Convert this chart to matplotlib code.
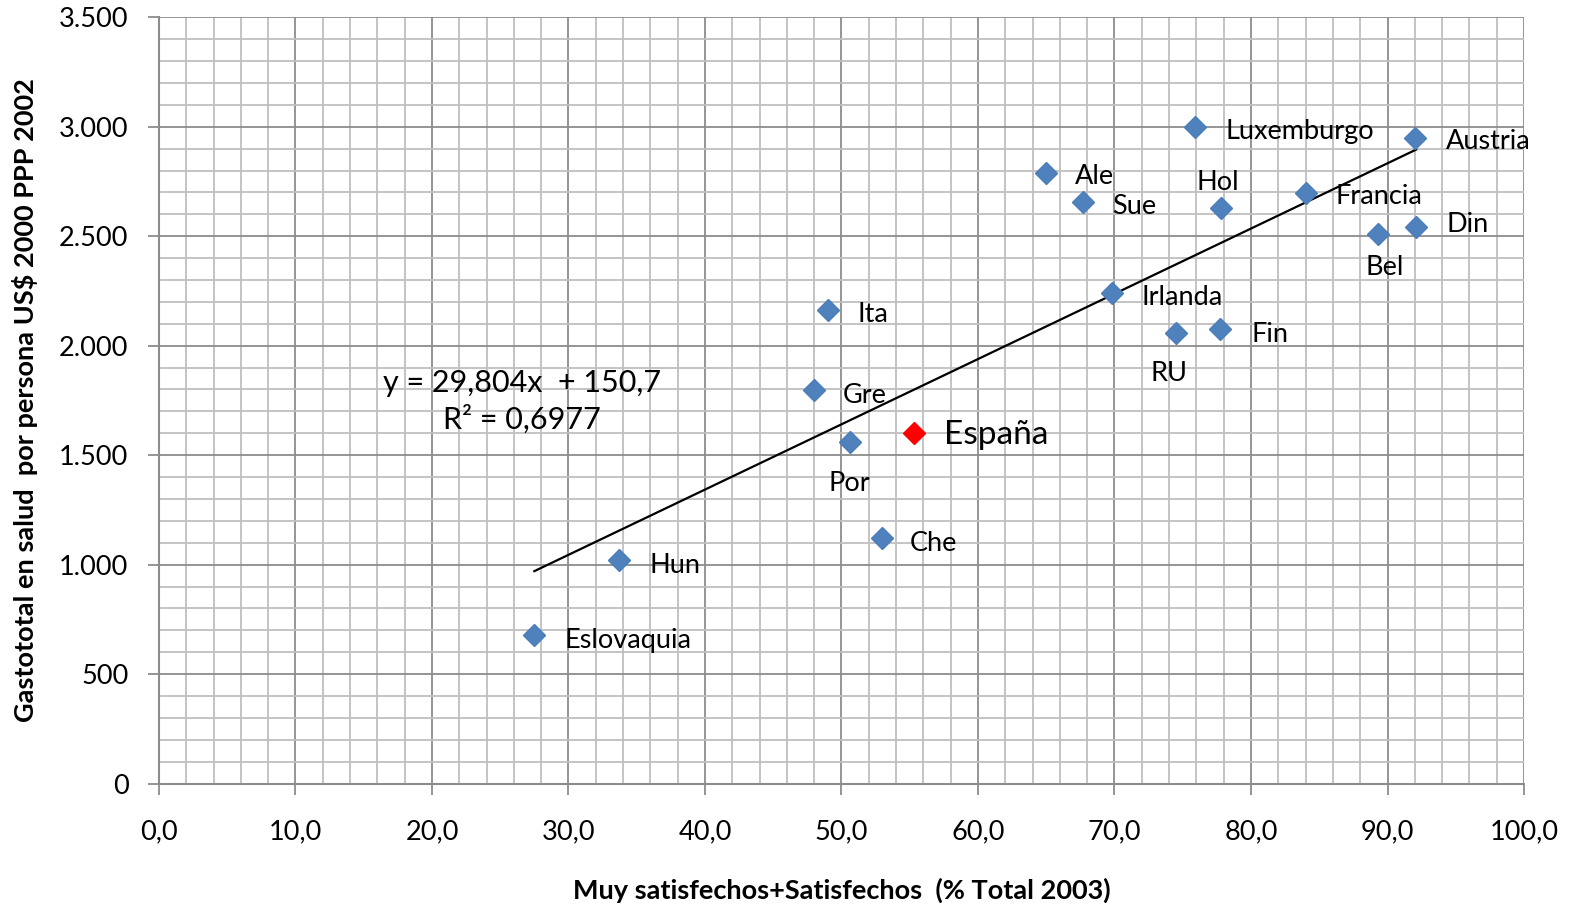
import matplotlib
matplotlib.use("Agg")
import matplotlib.pyplot as plt
from matplotlib.ticker import MultipleLocator, FuncFormatter

plt.rcParams['font.family'] = ['Lato', 'DejaVu Sans']

# Satisfaction (% very satisfied + satisfied, 2003) and health spending per person
countries = ["Eslovaquia", "Hun", "Che", "Por", "Gre", "Ita", "Irlanda", "RU", "Fin",
             "Ale", "Sue", "Hol", "Luxemburgo", "Francia", "Austria", "Bel", "Din"]
satisfaccion = [27.5, 33.7, 53.0, 50.6, 48.0, 49.0, 69.8, 74.5, 77.7,
                65.0, 67.7, 77.8, 75.9, 84.0, 92.0, 89.3, 92.1]
gasto = [680, 1020, 1121, 1562, 1796, 2164, 2242, 2058, 2076,
         2788, 2655, 2627, 3000, 2696, 2949, 2508, 2540]

espana_sat = 55.3
espana_gasto = 1603

# Linear trend as reported on the chart
pendiente = 29.804
ordenada = 150.7
r2 = 0.6977

# Label placement: (dx, dy in data units, horizontal alignment)
label_pos = {
    "Eslovaquia": (2.2, -25, "left"),
    "Hun": (2.2, -25, "left"),
    "Che": (2.0, -25, "left"),
    "Por": (0.0, -190, "center"),
    "Gre": (2.1, -25, "left"),
    "Ita": (2.2, -20, "left"),
    "Irlanda": (2.2, -20, "left"),
    "RU": (-0.5, -185, "center"),
    "Fin": (2.3, -25, "left"),
    "Ale": (2.1, -15, "left"),
    "Sue": (2.1, -20, "left"),
    "Hol": (-0.2, 120, "center"),
    "Luxemburgo": (2.2, -20, "left"),
    "Francia": (2.2, -15, "left"),
    "Austria": (2.3, -15, "left"),
    "Bel": (0.5, -150, "center"),
    "Din": (2.2, 15, "left"),
}

fig = plt.figure(figsize=(15.77, 9.08), dpi=100)
ax = fig.add_axes([0.1008, 0.137, 0.8656, 0.844])

ax.set_xlim(0, 100)
ax.set_ylim(0, 3500)

ax.xaxis.set_major_locator(MultipleLocator(10))
ax.xaxis.set_minor_locator(MultipleLocator(2))
ax.yaxis.set_major_locator(MultipleLocator(500))
ax.yaxis.set_minor_locator(MultipleLocator(100))

ax.grid(which="minor", color="#BFBFBF", linewidth=1.3, zorder=0)
ax.grid(which="major", color="#8C8C8C", linewidth=1.3, zorder=0)
ax.set_axisbelow(True)

ax.xaxis.set_major_formatter(FuncFormatter(lambda v, p: f"{v:.1f}".replace(".", ",")))
ax.yaxis.set_major_formatter(FuncFormatter(lambda v, p: f"{int(v):,}".replace(",", ".")))

ax.tick_params(which="major", length=8, width=1.3, color="#8C8C8C",
               labelsize=19.5)
ax.tick_params(axis="y", which="major", pad=14)
ax.tick_params(axis="x", which="major", pad=18)
ax.tick_params(which="minor", length=0)

for side in ["top", "right"]:
    ax.spines[side].set_visible(False)
for side in ["left", "bottom"]:
    ax.spines[side].set_color("#8C8C8C")
    ax.spines[side].set_linewidth(1.5)

# Trend line over the range of the data
x0, x1 = min(satisfaccion), max(satisfaccion)
ax.plot([x0, x1], [pendiente * x0 + ordenada, pendiente * x1 + ordenada],
        color="black", linewidth=1.6, zorder=3)

ax.plot(satisfaccion, gasto, linestyle="none", marker="D", markersize=11.5,
        markerfacecolor="#4F81BD", markeredgecolor="#4A7EBB", zorder=4)
ax.plot([espana_sat], [espana_gasto], linestyle="none", marker="D", markersize=11.5,
        markerfacecolor="#FF0000", markeredgecolor="#FF0000", zorder=5)

for name, xv, yv in zip(countries, satisfaccion, gasto):
    dx, dy, ha = label_pos[name]
    ax.text(xv + dx, yv + dy, name, fontsize=19.5, ha=ha, va="center", zorder=6)

ax.text(espana_sat + 2.2, espana_gasto - 10, "España", fontsize=24, ha="left",
        va="center", zorder=6)

eq_text = (f"y = {pendiente:.3f}x  + {ordenada:.1f}".replace(".", ",")
           + "\n" + f"R² = {r2:.4f}".replace(".", ","))
ax.text(26.6, 1745, eq_text, fontsize=22, ha="center", va="center",
        linespacing=1.3, zorder=6)

ax.set_xlabel("Muy satisfechos+Satisfechos  (% Total 2003)", fontsize=19.5,
              fontweight="bold", labelpad=24)
ax.set_ylabel("Gastototal en salud  por persona US$ 2000 PPP 2002", fontsize=19.5,
              fontweight="bold", labelpad=15)

fig.savefig("out.png", dpi=100)
